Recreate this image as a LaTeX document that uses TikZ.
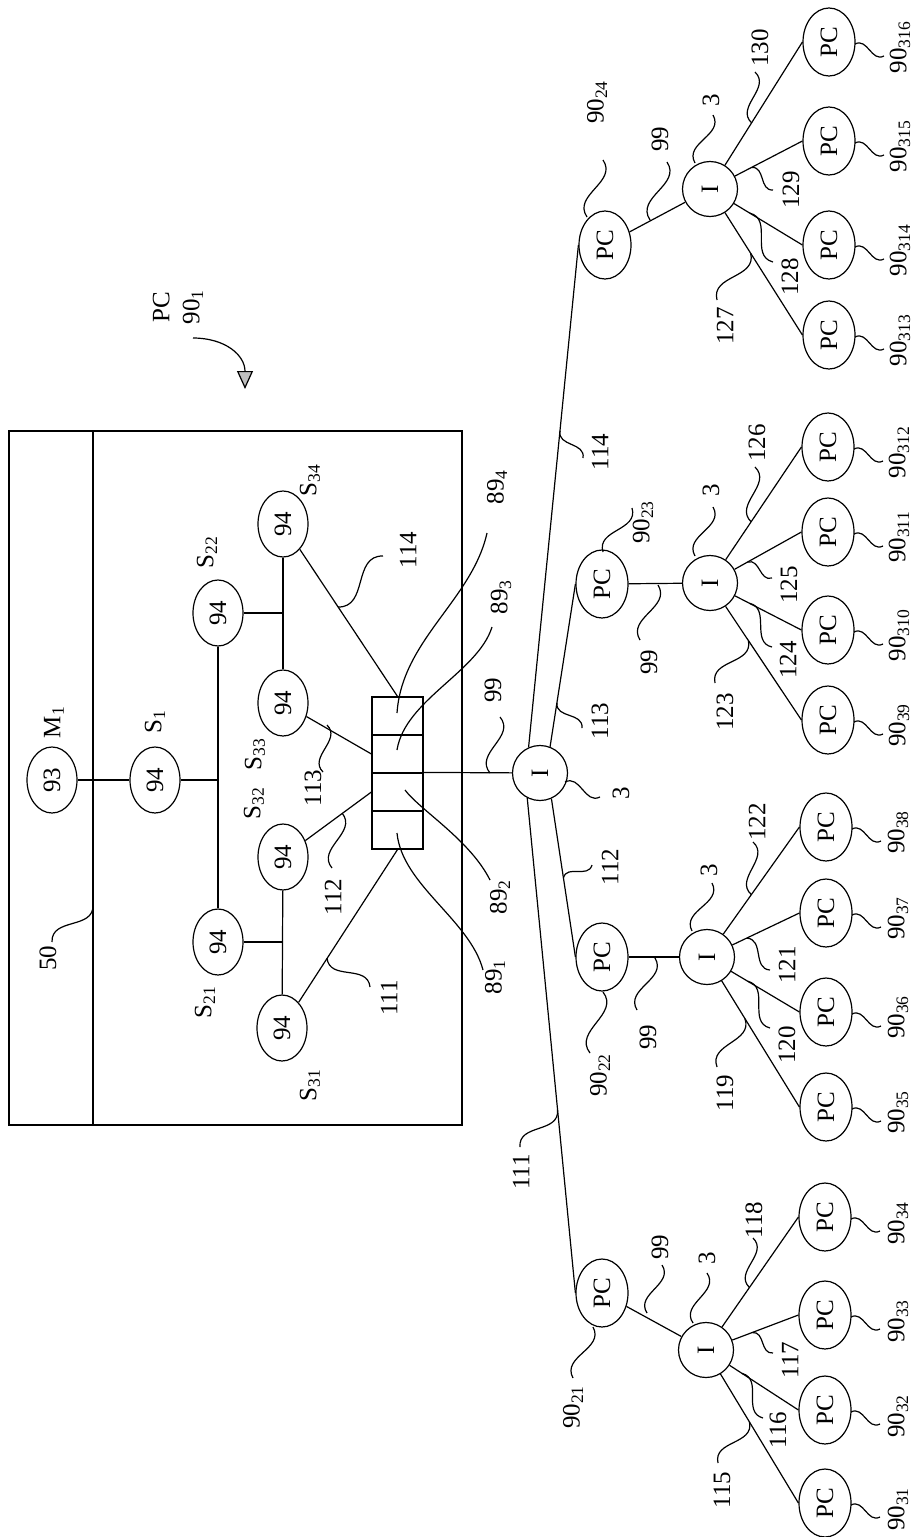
\documentclass[tikz,border=0pt]{standalone}
\usepackage{fontspec}
\setmainfont{Liberation Serif}
\usetikzlibrary{shapes.geometric,calc,arrows.meta}
\newcommand{\sidew}[1]{\rotatebox{90}{#1}}
\tikzset{
  pc/.style={draw, ellipse, minimum width=26pt, minimum height=34pt, inner sep=0pt},
  sensor/.style={draw, ellipse, minimum width=25pt, minimum height=33pt, inner sep=0pt},
  hub/.style={draw, circle, minimum size=27.5pt, inner sep=0pt},
  port/.style={draw, rectangle, minimum width=25.5pt, minimum height=19pt, inner sep=0pt},
  txt/.style={rotate=90, inner sep=1pt},
  lead/.style={to path={.. controls ($(\tikztostart)!0.45!#1:(\tikztotarget)$) and ($(\tikztotarget)!0.45!#1:(\tikztostart)$) .. (\tikztotarget)}},
  lead/.default=50
}
\begin{document}
\begin{tikzpicture}[x=0.5pt, y=-0.5pt, line width=0.6pt, font=\fontsize{12.5}{15}\selectfont]
   \useasboundingbox (0,0) rectangle (922,1537);
   % machine with its controller
   \draw (9,431) rectangle (462,1125);
   \draw (93,431) -- (93,1125);
   \node[txt] (l50) at (48,958) {50};
   \draw (52,942) to[lead] (93,905);
   \node[txt, align=center] (pc1) at (178,307) {PC\\90\textsubscript{1}};
   \draw[-{Triangle[width=8pt,length=9pt,fill=gray!50]}] (193,338) .. controls (225,338) and (245,355) .. (245,389);
   % sensors
   \node[sensor] (m1)  at (52,780)  {\sidew{93}};
   \node[sensor] (s1)  at (155,780) {\sidew{94}};
   \node[sensor] (s22) at (218,613) {\sidew{94}};
   \node[sensor] (s21) at (218,942) {\sidew{94}};
   \node[sensor] (s34) at (283,524) {\sidew{94}};
   \node[sensor] (s33) at (283,703) {\sidew{94}};
   \node[sensor] (s32) at (283,857) {\sidew{94}};
   \node[sensor] (s31) at (282,1028) {\sidew{94}};
   \node[txt] (lm1)  at (54,722)  {M\textsubscript{1}};
   \node[txt] (ls1)  at (155,722) {S\textsubscript{1}};
   \node[txt] (ls22) at (207,552) {S\textsubscript{22}};
   \node[txt] (ls21) at (205,1002) {S\textsubscript{21}};
   \node[txt] (ls34) at (310,480) {S\textsubscript{34}};
   \node[txt] (ls33) at (255,754) {S\textsubscript{33}};
   \node[txt] (ls32) at (254,803) {S\textsubscript{32}};
   \node[txt] (ls31) at (310,1085) {S\textsubscript{31}};
   \draw (m1) -- (s1);
   \draw (s1) -- (s1 -| s22);
   \draw (s22) -- (s21);
   \draw[line width=1pt] (s22) -- (s22 -| s34);
   \draw (s34) -- (s33);
   \draw (s21) -- (s21 -| s32);
   \draw (s32) -- (s31);
   % ports
   \node[port] (p4) at (397.5,716) {};
   \node[port] (p3) at (397.5,754) {};
   \node[port] (p2) at (397.5,792) {};
   \node[port] (p1) at (397.5,830) {};
   \draw (s34) -- (p4.north);
   \draw (s33) -- (p3.west);
   \draw (s32) -- (p2.west);
   \draw (s31) -- (p1.south);
   \node[txt] (li114) at (408,550) {114};
   \node[txt] (li113) at (313,788) {113};
   \node[txt] (li112) at (333,897) {112};
   \node[txt] (li111) at (389,998) {111};
   \draw (383,556) to[lead=-50] (338,607);
   \draw (323,772) to[lead] (327,725);
   \draw (332,868) to[lead] (342,813);
   \draw (370,987) to[lead=-50] (327,958);
   \node[txt] (l894) at (497,487) {89\textsubscript{4}};
   \node[txt] (l893) at (501,597) {89\textsubscript{3}};
   \node[txt] (l892) at (500,897) {89\textsubscript{2}};
   \node[txt] (l891) at (495,977) {89\textsubscript{1}};
   \draw (487,533) .. controls (472,600) and (402,640) .. (397,713);
   \draw (492,627) .. controls (478,672) and (405,700) .. (397,750);
   \draw (490,880) .. controls (470,840) and (420,810) .. (405,790);
   \draw (483,970) .. controls (470,920) and (402,885) .. (397,833);
   % main interface
   \node[hub] (hub) at (540,773) {\sidew{I}};
   \draw (p2.north east) -- (hub);
   \node[txt] (l99) at (493,690) {99};
   \node[txt] (l3) at (621,793) {3};
   \draw (500,717) to[lead] (490,773);
   \draw (565,782) to[lead] (600,797);
   % second level computers
   \node[pc] (pc24) at (605,245)  {\sidew{PC}};
   \node[pc] (pc23) at (602,584)  {\sidew{PC}};
   \node[pc] (pc22) at (602,957)  {\sidew{PC}};
   \node[pc] (pc21) at (602,1293) {\sidew{PC}};
   \draw (hub.114) -- (pc24.west);
   \draw (hub.69)  -- (pc23.west);
   \draw (hub.294) -- (pc22.west);
   \draw (hub.243) -- (pc21.west);
   \node[txt] (lo114) at (600,452)  {114};
   \node[txt] (lo113) at (600,721)  {113};
   \node[txt] (lo112) at (610,867)  {112};
   \node[txt] (lo111) at (521,1172) {111};
   \draw (583,458) to[lead=-50] ($(hub.114)!0.63!(pc24.west)$);
   \draw (582,728) to[lead=-50] ($(hub.69)!0.27!(pc23.west)$);
   \draw (592,865) to[lead] ($(hub.294)!0.5!(pc22.west)$);
   \draw (520,1147) to[lead] ($(hub.243)!0.63!(pc21.west)$);
   % branch 90_24
   \node[hub] (hub4) at (710,189) {\sidew{I}};
   \draw (pc24) -- (hub4);
   \node[txt] (l9024) at (597,102) {90\textsubscript{24}};
   \node[txt] (l99d) at (660,139) {99};
   \node[txt] (l3d) at (711,100) {3};
   \draw (603,160) to[lead] (587,217);
   \draw (667,162) to[lead] (650,220);
   \draw (713,115) to[lead] (695,163);
   \foreach \nm/\yy/\sub in {c313/335/313, c314/245/314, c315/141/315, c316/42/316}{
     \node[pc] (\nm) at (829,\yy) {\sidew{PC}};
     \node[txt] (l\nm) at (900,\yy+5) {90\textsubscript{\sub}};
     \draw ($(\nm)+(26,2)$) to[lead] ($(\nm)+(55,14)$);
     \draw (hub4) -- (\nm.west);
   }
   \node[txt] (l127) at (725,326) {127};
   \node[txt] (l128) at (790,277) {128};
   \node[txt] (l129) at (791,190) {129};
   \node[txt] (l130) at (760,48)  {130};
   \draw (717,300) to[lead] ($(hub4)!0.44!(c313.west)$);
   \draw (773,262) to[lead] ($(hub4)!0.43!(c314.west)$);
   \draw (773,190) to[lead] ($(hub4)!0.45!(c315.west)$);
   \draw (755,72) to[lead] ($(hub4)!0.45!(c316.west)$);
   % branch 90_23
   \node[hub] (hub3) at (710,583) {\sidew{I}};
   \draw (pc23) -- (hub3);
   \node[txt] (l9023) at (643,522) {90\textsubscript{23}};
   \node[txt] (l99c) at (649,662) {99};
   \node[txt] (l3c) at (711,490) {3};
   \draw (603,552) to[lead] (632,508);
   \draw (640,640) to[lead] (658,585);
   \draw (713,507) to[lead] (695,556);
   \foreach \nm/\yy/\sub in {c39/720/39, c310/630/310, c311/532/311, c312/447/312}{
     \node[pc] (\nm) at (828,\yy) {\sidew{PC}};
     \node[txt] (l\nm) at (899,\yy+5) {90\textsubscript{\sub}};
     \draw ($(\nm)+(26,2)$) to[lead] ($(\nm)+(55,14)$);
     \draw (hub3) -- (\nm.west);
   }
   \node[txt] (l123) at (725,712) {123};
   \node[txt] (l124) at (788,660) {124};
   \node[txt] (l125) at (789,585) {125};
   \node[txt] (l126) at (757,443) {126};
   \draw (715,683) to[lead] ($(hub3)!0.42!(c39.west)$);
   \draw (772,647) to[lead] ($(hub3)!0.43!(c310.west)$);
   \draw (772,578) to[lead] ($(hub3)!0.41!(c311.west)$);
   \draw (755,467) to[lead] ($(hub3)!0.45!(c312.west)$);
   % branch 90_22
   \node[hub] (hub2) at (707,957) {\sidew{I}};
   \draw (pc22) -- (hub2);
   \node[txt] (l9022) at (600,1075) {90\textsubscript{22}};
   \node[txt] (l99b) at (648,1037) {99};
   \node[txt] (l3b) at (709,870) {3};
   \draw (590,1053) to[lead] (603,992);
   \draw (637,1010) to[lead] (655,958);
   \draw (712,883) to[lead] (692,931);
   \foreach \nm/\yy/\sub in {c35/1107/35, c36/1012/36, c37/913/37, c38/827/38}{
     \node[pc] (\nm) at (826,\yy) {\sidew{PC}};
     \node[txt] (l\nm) at (898,\yy+5) {90\textsubscript{\sub}};
     \draw ($(\nm)+(26,2)$) to[lead] ($(\nm)+(55,14)$);
     \draw (hub2) -- (\nm.west);
   }
   \node[txt] (l119) at (725,1093) {119};
   \node[txt] (l120) at (787,1045) {120};
   \node[txt] (l121) at (787,965)  {121};
   \node[txt] (l122) at (757,822)  {122};
   \draw (717,1067) to[lead] ($(hub2)!0.41!(c35.west)$);
   \draw (770,1028) to[lead] ($(hub2)!0.44!(c36.west)$);
   \draw (770,970) to[lead] ($(hub2)!0.43!(c37.west)$);
   \draw (753,842) to[lead] ($(hub2)!0.48!(c38.west)$);
   % branch 90_21
   \node[hub] (hub1) at (706,1350) {\sidew{I}};
   \draw (pc21) -- (hub1);
   \node[txt] (l9021) at (573,1407) {90\textsubscript{21}};
   \node[txt] (l99a) at (660,1247) {99};
   \node[txt] (l3a) at (707,1258) {3};
   \draw (573,1378) to[lead] (593,1327);
   \draw (662,1265) to[lead] (647,1313);
   \draw (707,1273) to[lead] (693,1323);
   \foreach \nm/\yy/\sub in {c31/1503/31, c32/1410/32, c33/1315/33, c34/1217/34}{
     \node[pc] (\nm) at (825,\yy) {\sidew{PC}};
     \node[txt] (l\nm) at (898,\yy+6) {90\textsubscript{\sub}};
     \draw ($(\nm)+(26,2)$) to[lead] ($(\nm)+(55,14)$);
     \draw (hub1) -- (\nm.west);
   }
   \node[txt] (l115) at (722,1490) {115};
   \node[txt] (l116) at (778,1430) {116};
   \node[txt] (l117) at (790,1360) {117};
   \node[txt] (l118) at (754,1220) {118};
   \draw (718,1463) to[lead] ($(hub1)!0.47!(c31.west)$);
   \draw (763,1418) to[lead] ($(hub1)!0.39!(c32.west)$);
   \draw (773,1353) to[lead] ($(hub1)!0.5!(c33.west)$);
   \draw (753,1238) to[lead] ($(hub1)!0.47!(c34.west)$);
\end{tikzpicture}
\end{document}
